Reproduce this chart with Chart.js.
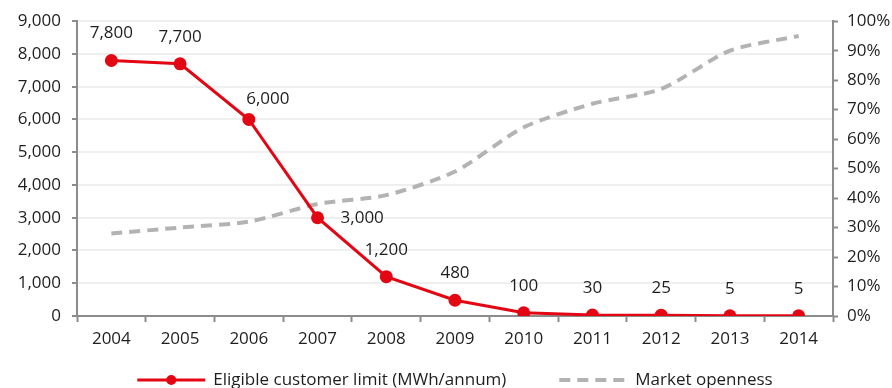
<!DOCTYPE html>
<html>
<head>
<meta charset="utf-8">
<script src="https://cdn.jsdelivr.net/npm/chart.js@4.4.1/dist/chart.umd.min.js"></script>
<style>
  html, body { margin: 0; padding: 0; background: #ffffff; }
  #wrap { position: relative; width: 892px; height: 388px; }
</style>
</head>
<body>
<div id="wrap"><canvas id="chart" width="892" height="388"></canvas></div>
<script>
// Years on the horizontal axis
const years = ['2004','2005','2006','2007','2008','2009','2010','2011','2012','2013','2014'];
// Eligible customer limit, MWh per annum (left axis)
const customerLimit = [7800, 7700, 6000, 3000, 1200, 480, 100, 30, 25, 5, 5];
// Market openness, percent (right axis)
const marketOpenness = [28, 30, 32, 38, 41, 49, 64, 72, 77, 90, 95];
// Series names
const seriesNames = ['Eligible customer limit (MWh/annum)', 'Market openness'];

const RED = '#e30613';
const GREY = '#b3b3b3';
const AXIS = '#8c8c8c';
const TEXT = '#1e1e1e';
const FONT = '"Open Sans", "Liberation Sans", sans-serif';
const FONT_SIZE = 17;

// Where each value label sits relative to its point
const labelPlacement = ['top','top','topRight','right','top','top','top','top','top','top','top'];

const valueLabels = {
  id: 'valueLabels',
  afterDatasetsDraw(chart) {
    const meta = chart.getDatasetMeta(0);
    const ctx = chart.ctx;
    ctx.save();
    ctx.font = FONT_SIZE + 'px ' + FONT;
    ctx.fillStyle = TEXT;
    ctx.textBaseline = 'middle';
    meta.data.forEach((pt, i) => {
      const txt = customerLimit[i].toLocaleString('en-US');
      const place = labelPlacement[i];
      let x = pt.x, y = pt.y - 27;
      ctx.textAlign = 'center';
      if (place === 'topRight') { x = pt.x + 19; y = pt.y - 20; }
      if (place === 'right') { x = pt.x + 23; y = pt.y; ctx.textAlign = 'left'; }
      ctx.fillText(txt, x, y);
    });
    ctx.restore();
  }
};

// Legend under the plot: line swatches (the red one with a marker) and series names
const lineLegend = {
  id: 'lineLegend',
  afterDraw(chart) {
    const ctx = chart.ctx;
    const area = chart.chartArea;
    const sw = 68, gapText = 8, gapItem = 53;
    ctx.save();
    ctx.font = FONT_SIZE + 'px ' + FONT;
    const w = chart.data.datasets.map(ds => ctx.measureText(ds.label).width);
    const total = sw + gapText + w[0] + gapItem + sw + gapText + w[1];
    let x = (area.left + area.right) / 2 - total / 2;
    const y = 380;
    chart.data.datasets.forEach((ds, i) => {
      ctx.save();
      ctx.strokeStyle = ds.borderColor;
      ctx.lineWidth = ds.borderWidth;
      ctx.setLineDash(ds.borderDash || []);
      ctx.beginPath(); ctx.moveTo(x, y); ctx.lineTo(x + sw, y); ctx.stroke();
      if (ds.pointRadius > 0) {
        ctx.fillStyle = ds.pointBackgroundColor;
        ctx.beginPath(); ctx.arc(x + sw / 2, y, 5, 0, Math.PI * 2); ctx.fill();
      }
      ctx.restore();
      x += sw + gapText;
      ctx.fillStyle = TEXT;
      ctx.textAlign = 'left';
      ctx.textBaseline = 'middle';
      ctx.fillText(ds.label, x, y);
      x += w[i] + gapItem;
    });
    ctx.restore();
  }
};

new Chart(document.getElementById('chart'), {
  type: 'line',
  data: {
    labels: years,
    datasets: [
      {
        label: seriesNames[0],
        data: customerLimit,
        yAxisID: 'y',
        borderColor: RED,
        backgroundColor: RED,
        borderWidth: 3,
        pointRadius: 6.5,
        pointHoverRadius: 6.5,
        pointBorderWidth: 0,
        pointBackgroundColor: RED,
        pointBorderColor: RED,
        tension: 0
      },
      {
        label: seriesNames[1],
        data: marketOpenness,
        yAxisID: 'y1',
        borderColor: GREY,
        borderWidth: 4,
        borderDash: [11, 7],
        pointRadius: 0,
        tension: 0.25
      }
    ]
  },
  options: {
    responsive: false,
    animation: false,
    events: [],
    layout: { padding: { top: 21, right: 0, left: 0, bottom: 37 } },
    plugins: {
      tooltip: { enabled: false },
      legend: { display: false }
    },
    scales: {
      x: {
        offset: true,
        afterFit: s => { s.height = 35; },
        grid: {
          offset: true,
          drawOnChartArea: false,
          tickLength: 6,
          tickColor: AXIS,
          tickWidth: 2
        },
        border: { color: AXIS, width: 2 },
        ticks: { font: { family: FONT, size: FONT_SIZE }, color: TEXT, padding: 7 }
      },
      y: {
        position: 'left',
        min: 0, max: 9000,
        afterFit: s => { s.width = 77; },
        grid: { color: '#efefef', lineWidth: 2, tickLength: 5, tickColor: AXIS, tickWidth: 2 },
        border: { color: AXIS, width: 2 },
        ticks: {
          stepSize: 1000,
          font: { family: FONT, size: FONT_SIZE },
          color: TEXT,
          padding: 11,
          callback: v => v.toLocaleString('en-US')
        }
      },
      y1: {
        position: 'right',
        min: 0, max: 100,
        afterFit: s => { s.width = 59; },
        grid: { drawOnChartArea: false, tickLength: 5, tickColor: AXIS, tickWidth: 2 },
        border: { color: AXIS, width: 2 },
        ticks: {
          stepSize: 10,
          font: { family: FONT, size: FONT_SIZE },
          color: TEXT,
          padding: 9,
          callback: v => v + '%'
        }
      }
    }
  },
  plugins: [valueLabels, lineLegend]
});
</script>
</body>
</html>
